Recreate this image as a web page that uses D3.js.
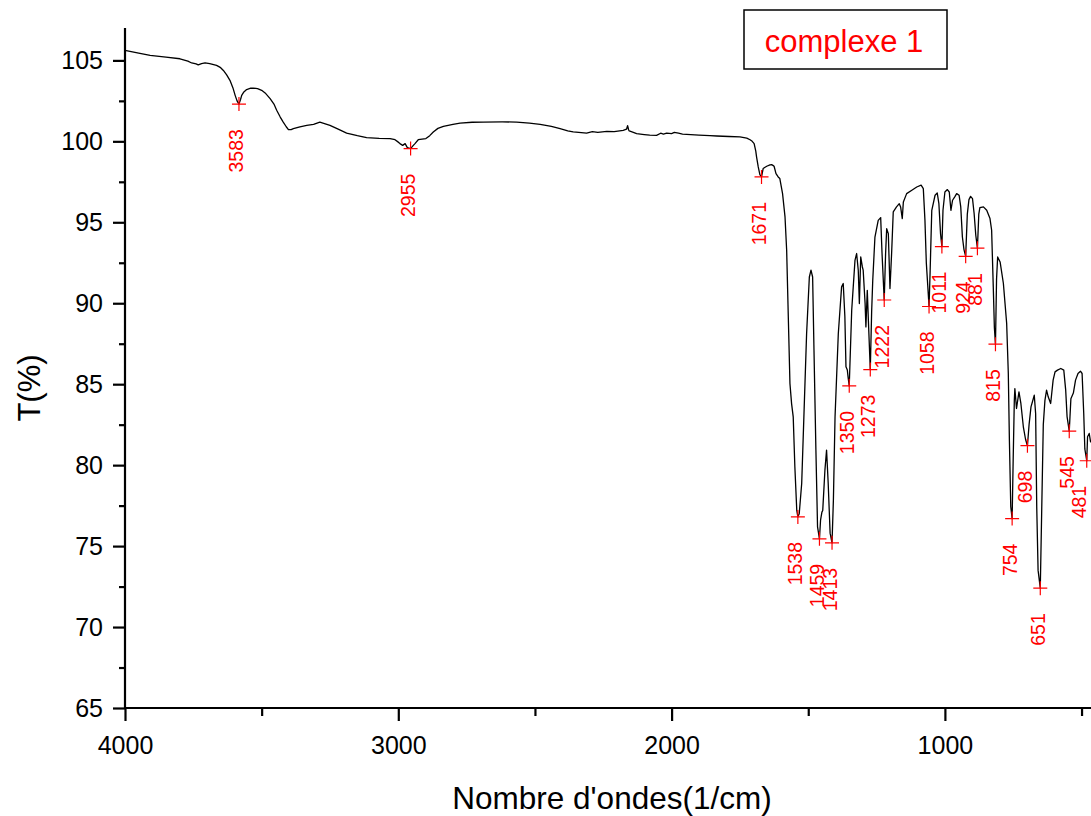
<!DOCTYPE html>
<html>
<head>
<meta charset="utf-8">
<script src="https://cdn.jsdelivr.net/npm/d3@7"></script>
<style>
  html, body { margin: 0; padding: 0; background: #fff; }
  svg { display: block; font-family: "Liberation Sans", Arial, sans-serif; }
</style>
</head>
<body>
<svg id="chart" width="1091" height="816"></svg>
<script>
// IR spectrum of "complexe 1": wavenumber (cm-1) and transmittance (%)
const wavenumbers = [
  4000, 3950, 3908, 3850, 3799, 3770, 3756, 3740, 3732, 3720, 3707, 3690, 3665, 3650, 3640, 3628,
  3616, 3605, 3597, 3590, 3583, 3577, 3573, 3565, 3555, 3540, 3531, 3515, 3500, 3485, 3469, 3455,
  3445, 3432, 3421, 3410, 3402, 3392, 3384, 3360, 3335, 3310, 3287, 3270, 3250, 3220, 3189, 3150,
  3116, 3070, 3030, 3012, 3000, 2994, 2984, 2975, 2967, 2955, 2945, 2939, 2927, 2899, 2885, 2872,
  2855, 2835, 2800, 2774, 2730, 2689, 2620, 2567, 2520, 2481, 2440, 2408, 2380, 2360, 2340, 2311,
  2290, 2270, 2237, 2210, 2177, 2165, 2161, 2157, 2155, 2140, 2128, 2100, 2080, 2055, 2040, 2030,
  2018, 2000, 1990, 1975, 1960, 1945, 1900, 1860, 1835, 1790, 1750, 1725, 1713, 1705, 1698, 1692,
  1689, 1683, 1677, 1671, 1665, 1658, 1652, 1640, 1634, 1628, 1625, 1618, 1610, 1604, 1594, 1585,
  1579, 1573, 1567, 1561, 1555, 1549, 1542, 1538, 1533, 1524, 1516, 1506, 1496, 1490, 1484, 1479,
  1472, 1466, 1459, 1455, 1450, 1447, 1439, 1433, 1427, 1420, 1413, 1408, 1402, 1390, 1378, 1372,
  1366, 1362, 1357, 1354, 1350, 1345, 1341, 1329, 1323, 1317, 1313, 1308, 1302, 1299, 1292, 1289,
  1284, 1280, 1273, 1268, 1264, 1256, 1244, 1235, 1230, 1222, 1217, 1213, 1207, 1201, 1195, 1189,
  1177, 1167, 1162, 1156, 1152, 1140, 1121, 1103, 1087, 1079, 1073, 1068, 1058, 1054, 1048, 1036,
  1028, 1022, 1016, 1011, 1007, 1000, 991, 984, 978, 972, 964, 957, 948, 942, 936, 930,
  924, 918, 912, 906, 899, 893, 887, 881, 876, 872, 859, 847, 835, 829, 823, 819,
  815, 811, 807, 798, 786, 774, 768, 764, 759, 754, 750, 746, 744, 738, 729, 722,
  713, 705, 698, 692, 685, 673, 668, 664, 659, 651, 646, 640, 634, 628, 622, 613,
  604, 597, 588, 576, 565, 558, 553, 545, 539, 530, 522, 513, 504, 498, 492, 488,
  481, 478, 472, 467, 460
];
const transmittance = [
  105.62, 105.45, 105.31, 105.2, 105.1, 104.95, 104.84, 104.78, 104.72, 104.8, 104.84, 104.8, 104.69, 104.55, 104.38, 104.1,
  103.77, 103.3, 102.84, 102.5, 102.3, 102.6, 102.84, 103.05, 103.2, 103.28, 103.29, 103.25, 103.15, 102.95, 102.64, 102.3,
  101.92, 101.5, 101.19, 100.9, 100.72, 100.72, 100.78, 100.9, 100.99, 101.05, 101.19, 101.1, 100.99, 100.75, 100.51, 100.35,
  100.23, 100.18, 100.17, 100.1, 99.95, 99.86, 99.75, 99.86, 99.61, 99.55, 99.75, 99.86, 100.1, 100.17, 100.35, 100.58,
  100.8, 100.93, 101.05, 101.13, 101.18, 101.19, 101.2, 101.19, 101.12, 101.05, 100.92, 100.78, 100.65, 100.58, 100.55, 100.51,
  100.6, 100.55, 100.62, 100.6, 100.68, 100.75, 100.97, 100.7, 100.64, 100.55, 100.48, 100.42, 100.38, 100.37, 100.5, 100.45,
  100.51, 100.48, 100.55, 100.51, 100.45, 100.43, 100.38, 100.35, 100.33, 100.3, 100.27, 100.2, 100.1, 100.0, 99.86, 99.4,
  99.03, 98.42, 97.95, 97.8, 98.32, 98.4, 98.46, 98.55, 98.56, 98.5, 98.46, 98.01, 97.8, 97.7, 96.77, 95.33,
  93.27, 89.16, 85.04, 83.8, 82.98, 79.9, 77.2, 76.8, 77.0, 78.87, 82.98, 88.13, 91.62, 92.04, 91.62, 87.1,
  80.93, 76.19, 75.45, 76.6, 77.1, 77.2, 79.69, 80.93, 78.87, 75.8, 75.2, 77.84, 82.98, 88.13, 91.01, 91.22,
  89.16, 86.07, 85.87, 85.4, 84.9, 87.5, 89.57, 92.65, 93.07, 92.04, 89.98, 92.86, 92.24, 92.04, 89.98, 88.54,
  90.8, 88.95, 85.9, 89.5, 91.42, 94.09, 95.12, 95.29, 93.07, 90.2, 93.07, 94.61, 94.3, 90.91, 93.07, 95.64,
  95.95, 96.15, 95.95, 95.23, 96.26, 96.77, 96.98, 97.18, 97.29, 97.08, 95.12, 92.5, 89.8, 92.0, 95.74, 96.67,
  96.81, 96.15, 94.3, 93.5, 95.74, 96.87, 97.02, 96.87, 95.74, 96.36, 96.57, 96.77, 96.67, 95.95, 94.09, 93.3,
  92.9, 95.5, 96.4, 96.6, 96.46, 95.53, 94.2, 93.4, 95.5, 95.9, 95.95, 95.74, 95.23, 94.51, 91.01, 88.5,
  87.47, 91.5, 92.86, 92.55, 91.22, 88.75, 85.66, 81.54, 77.43, 76.7, 80.5, 84.0, 84.73, 83.5, 84.53, 83.81,
  82.37, 81.6, 81.2, 82.5, 83.6, 84.32, 83.19, 77.43, 73.5, 72.4, 77.0, 82.5, 84.0, 84.63, 84.22, 83.81,
  85.25, 85.76, 85.87, 85.97, 85.87, 84.63, 83.0, 82.1, 84.1, 84.45, 85.25, 85.66, 85.8, 85.66, 83.19, 81.0,
  80.27, 81.75, 81.96, 81.44, 81.6
];

// labelled band positions and their transmittance
const peakWavenumbers = [3583, 2955, 1671, 1538, 1459, 1413, 1350, 1273, 1222, 1058, 1011, 924, 881, 815, 754, 698, 651, 545, 481];
const peakValues      = [102.3, 99.55, 97.8, 76.8, 75.45, 75.2, 84.9, 85.9, 90.2, 89.8, 93.5, 92.9, 93.4, 87.47, 76.7, 81.2, 72.4, 82.1, 80.27];

const xMajorTicks = [4000, 3000, 2000, 1000];
const xMinorTicks = [3500, 2500, 1500, 500];
const yMajorTicks = [65, 70, 75, 80, 85, 90, 95, 100, 105];
const yMinorTicks = [67.5, 72.5, 77.5, 82.5, 87.5, 92.5, 97.5, 102.5];

const titleText = "complexe 1";
const xTitle = "Nombre d'ondes(1/cm)";
const yTitle = "T(%)";

const svg = d3.select("#chart");
const width = 1091;
const plotLeft = 125, plotBottom = 708, plotTop = 28;
const pxPerUnit = 0.2733;

const x = d3.scaleLinear().domain([4000, 400]).range([plotLeft, plotLeft + 3600 * pxPerUnit]);
const y = d3.scaleLinear().domain([65, 107]).range([plotBottom, plotTop]);

// spectrum trace
const spectrum = wavenumbers.map((w, i) => [w, transmittance[i]]);
svg.append("path")
  .datum(spectrum)
  .attr("fill", "none")
  .attr("stroke", "#000")
  .attr("stroke-width", 1.3)
  .attr("stroke-linejoin", "round")
  .attr("d", d3.line().x(d => x(d[0])).y(d => y(d[1])));

// axes
function styleAxis(g) {
  g.select(".domain").attr("stroke-width", 2.2);
  g.selectAll(".tick line").attr("stroke-width", 2.2);
  g.selectAll(".tick text").attr("fill", "#000").attr("font-family", "'Liberation Sans', Arial, sans-serif");
}

const xAxis = svg.append("g")
  .attr("transform", `translate(0,${plotBottom})`)
  .call(d3.axisBottom(x).tickValues(xMajorTicks).tickSize(13).tickPadding(15).tickFormat(d3.format("d")))
  .attr("font-size", 25);
styleAxis(xAxis);
xAxis.select(".domain").attr("d", `M${plotLeft},0H${width}`);

const xMinor = svg.append("g")
  .attr("transform", `translate(0,${plotBottom})`)
  .call(d3.axisBottom(x).tickValues(xMinorTicks).tickSize(8).tickFormat(""));
xMinor.select(".domain").remove();
xMinor.selectAll(".tick line").attr("stroke-width", 2.2);

const yAxis = svg.append("g")
  .attr("transform", `translate(${plotLeft},0)`)
  .call(d3.axisLeft(y).tickValues(yMajorTicks).tickSize(12).tickPadding(10).tickFormat(d3.format("d")))
  .attr("font-size", 25);
styleAxis(yAxis);
yAxis.select(".domain").attr("d", `M0,${plotTop}V${plotBottom}`);

const yMinor = svg.append("g")
  .attr("transform", `translate(${plotLeft},0)`)
  .call(d3.axisLeft(y).tickValues(yMinorTicks).tickSize(6).tickFormat(""));
yMinor.select(".domain").remove();
yMinor.selectAll(".tick line").attr("stroke-width", 2.2);

// axis titles
svg.append("text")
  .attr("x", 612).attr("y", 809)
  .attr("text-anchor", "middle")
  .attr("font-size", 31.5)
  .text(xTitle);

svg.append("text")
  .attr("transform", "translate(40,388) rotate(-90)")
  .attr("text-anchor", "middle")
  .attr("font-size", 31)
  .text(yTitle);

// peak markers and labels
const peaks = peakWavenumbers.map((w, i) => ({ w, t: peakValues[i] }));
const pk = svg.append("g");
pk.selectAll("path.marker")
  .data(peaks)
  .join("path")
  .attr("class", "marker")
  .attr("transform", d => `translate(${x(d.w)},${y(d.t)})`)
  .attr("d", "M-7,0H7M0,-7V7")
  .attr("stroke", "#ff0000")
  .attr("stroke-width", 1.2)
  .attr("fill", "none");

// rotated labels read upward, ending just below each marker; keep them inside the page
pk.selectAll("text.peak")
  .data(peaks)
  .join("text")
  .attr("class", "peak")
  .attr("transform", d => `translate(${Math.min(x(d.w) + 4.5, width - 5)},${y(d.t) + 25}) rotate(-90)`)
  .attr("text-anchor", "end")
  .attr("font-size", 19.5)
  .attr("fill", "#ff0000")
  .text(d => d.w);

// title box
svg.append("rect")
  .attr("x", 744).attr("y", 10)
  .attr("width", 203).attr("height", 59)
  .attr("fill", "#fff")
  .attr("stroke", "#000")
  .attr("stroke-width", 1.5);
svg.append("text")
  .attr("x", 844).attr("y", 52)
  .attr("text-anchor", "middle")
  .attr("font-size", 31)
  .attr("fill", "#ff0000")
  .text(titleText);
</script>
</body>
</html>
